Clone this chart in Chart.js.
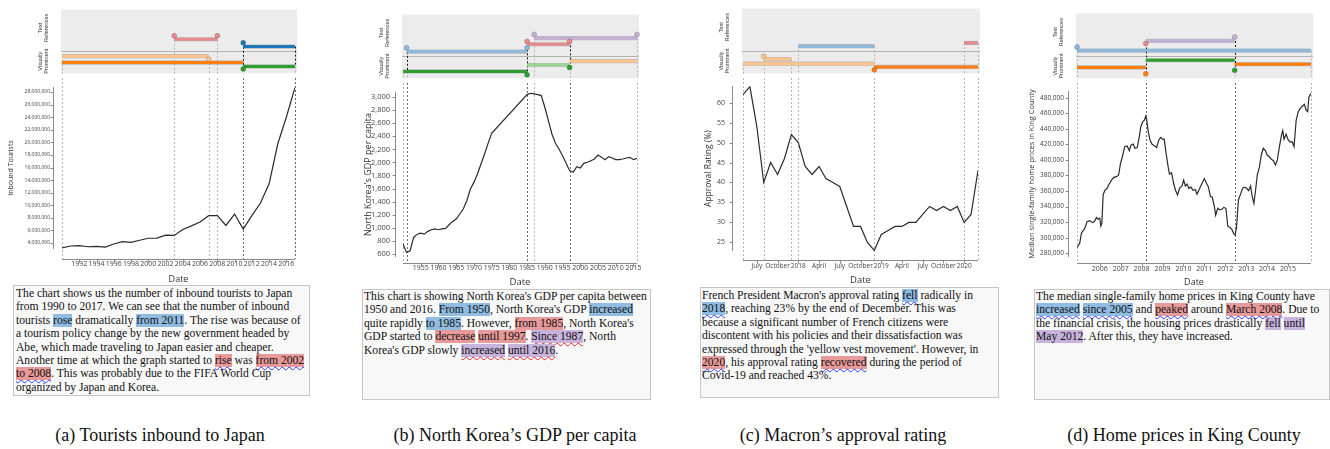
<!DOCTYPE html>
<html>
<head>
<meta charset="utf-8">
<title>Text references and visually prominent features</title>
<script src="https://cdn.jsdelivr.net/npm/chart.js@4.4.1/dist/chart.umd.min.js"></script>
<style>
  html, body { margin: 0; padding: 0; background: #fff; }
  #fig { position: relative; width: 1330px; height: 449px; overflow: hidden; }
  canvas { position: absolute; }
  .tbox { position: absolute; box-sizing: border-box; background: #f8f8f8; border: 1px solid #c6c6c6;
          font-family: 'Liberation Serif', 'Times New Roman', serif; font-size: 11.6px; line-height: 13.4px;
          color: #111; white-space: nowrap; overflow: hidden; }
  .hb { background: #8fbce0; }
  .hr { background: #e8999a; }
  .hp { background: #c8b3dd; }
  .wb { text-decoration: underline wavy #2a3bef; text-decoration-thickness: 1px; text-underline-offset: 2px; }
  .wr { text-decoration: underline wavy #e8262a; text-decoration-thickness: 1px; text-underline-offset: 2px; }
  .cap { position: absolute; font-family: 'Liberation Serif', 'Times New Roman', serif; font-size: 18px;
         white-space: nowrap; transform: translate(-50%, -50%); color: #111; }
</style>
</head>
<body>
<div id="fig">
  <div class="tbox" style="left:13px;top:285px;width:297px;height:111px;padding:1px 2px 0 2px;">
    The chart shows us the number of inbound tourists to Japan<br>
    from 1990 to 2017. We can see that the number of inbound<br>
    tourists <span class="hb">rose</span> dramatically <span class="hb">from 2011</span>. The rise was because of<br>
    a tourism policy change by the new government headed by<br>
    Abe, which made traveling to Japan easier and cheaper.<br>
    Another time at which the graph started to <span class="hr wb">rise</span> was <span class="hr wb">from 2002<br>
    to 2008</span>. This was probably due to the FIFA World Cup<br>
    organized by Japan and Korea.
  </div>
  <div class="tbox" style="left:362px;top:289px;width:289px;height:111px;padding:0 1px 0 1px;">
    This chart is showing North Korea's GDP per capita between<br>
    1950 and 2016. <span class="hb">From 1950</span>, North Korea's GDP <span class="hb">increased</span><br>
    quite rapidly <span class="hb">to 1985</span>. However, <span class="hr">from 1985</span>, North Korea's<br>
    GDP started to <span class="hr">decrease</span> <span class="hr">until 1997</span>. <span class="hp wr">Since 1987</span>, North<br>
    Korea's GDP slowly <span class="hp wr">increased</span> <span class="hp wr">until 2016</span>.
  </div>
  <div class="tbox" style="left:700px;top:287px;width:299px;height:111px;padding:1px 1px 0 1px;">
    French President Macron's approval rating <span class="hb wb">fell</span> radically in<br>
    <span class="hb wb">2018</span>, reaching 23% by the end of December. This was<br>
    because a significant number of French citizens were<br>
    discontent with his policies and their dissatisfaction was<br>
    expressed through the 'yellow vest movement'. However, in<br>
    <span class="hr wb">2020</span>, his approval rating <span class="hr wb">recovered</span> during the period of<br>
    Covid-19 and reached 43%.
  </div>
  <div class="tbox" style="left:1034px;top:289px;width:296px;height:111px;padding:0 1px 0 1px;">
    The median single-family home prices in King County have<br>
    <span class="hb wb">increased</span> <span class="hb wb">since 2005</span> and <span class="hr wb">peaked</span> around <span class="hr wb">March 2008</span>. Due to<br>
    the financial crisis, the housing prices drastically <span class="hp">fell</span> <span class="hp">until<br>
    May 2012</span>. After this, they have increased.
  </div>
  <div class="cap" style="left:160px;top:435px;">(a) Tourists inbound to Japan</div>
  <div class="cap" style="left:515px;top:435px;">(b) North Korea’s GDP per capita</div>
  <div class="cap" style="left:843px;top:435px;">(c) Macron’s approval rating</div>
  <div class="cap" style="left:1184px;top:435px;">(d) Home prices in King County</div>
</div>
<script>
// ---------- (a) inbound tourists to Japan ----------
const TOUR_YEARS = [1990, 1991, 1992, 1993, 1994, 1995, 1996, 1997, 1998, 1999, 2000, 2001, 2002, 2003,
                    2004, 2005, 2006, 2007, 2008, 2009, 2010, 2011, 2012, 2013, 2014, 2015, 2016, 2017];
const TOUR_VISITORS = [3240000, 3530000, 3580000, 3410000, 3470000, 3350000, 3840000, 4220000, 4110000,
                       4440000, 4760000, 4770000, 5240000, 5210000, 6140000, 6730000, 7330000, 8350000,
                       8350000, 6790000, 8610000, 6220000, 8360000, 10360000, 13410000, 19740000,
                       24040000, 28690000];
const TOUR_X_TICKS = [1992, 1994, 1996, 1998, 2000, 2002, 2004, 2006, 2008, 2010, 2012, 2014, 2016];
const TOUR_Y_TICKS = [4000000, 6000000, 8000000, 10000000, 12000000, 14000000, 16000000, 18000000,
                      20000000, 22000000, 24000000, 26000000, 28000000];
const TOUR_TEXT_REFS = [
  { from: 2003, to: 2008, lane: 5.35, key: 'ref2' },
  { from: 2011, to: 2017, lane: 4.2, key: 'ref1s' }
];
const TOUR_VISUAL = [
  { from: 1990, to: 2007, lane: 2.7, key: 'vis2' },
  { from: 1990, to: 2011, lane: 1.7, key: 'vis1' },
  { from: 2011, to: 2017, lane: 1.1, key: 'vis3' }
];
const TOUR_MARKERS = [
  { x: 2003, lane: 5.9, key: 'ref2' }, { x: 2008, lane: 5.9, key: 'ref2' },
  { x: 2011, lane: 4.8, key: 'ref1s' }, { x: 2007, lane: 2.25, key: 'vis2' },
  { x: 2011, lane: 0.7, key: 'vis3' }
];
const TOUR_GUIDES = [
  { x: 1990, top: 2.7 }, { x: 2003, top: 5.9 }, { x: 2007, top: 2.25 }, { x: 2008, top: 5.9 },
  { x: 2011, top: 4.8, low: 0.7, dark: true }, { x: 2017, top: 4.2, low: 1.1, dark: true }
];

// ---------- (b) North Korea's GDP per capita ----------
const GDP_YEARS = [1950, 1951, 1952, 1953, 1954, 1955, 1956, 1957, 1958, 1959, 1960, 1961, 1962, 1963,
                   1964, 1965, 1966, 1967, 1968, 1969, 1970, 1971, 1972, 1973, 1974, 1975,
                   1985, 1986, 1987, 1988, 1989, 1990, 1991, 1992, 1993, 1994, 1995, 1996, 1997, 1998,
                   1999, 2000, 2001, 2002, 2003, 2004, 2005, 2006, 2007, 2008, 2009, 2010, 2011, 2012,
                   2013, 2014, 2015, 2016];
const GDP_VALUES = [748, 620, 646, 850, 900, 917, 900, 943, 968, 980, 968, 980, 989, 1045,
                    1096, 1132, 1209, 1285, 1413, 1592, 1694, 1822, 1976, 2129, 2293, 2446,
                    3040, 3060, 3050, 3040, 3025, 2846, 2641, 2436, 2293, 2206, 2104, 1986, 1874, 1848,
                    1935, 1915, 1986, 2002, 2027, 2053, 2114, 2078, 2043, 2089, 2068, 2043, 2043, 2053,
                    2068, 2078, 2043, 2063];
const GDP_X_TICKS = [1955, 1960, 1965, 1970, 1975, 1980, 1985, 1990, 1995, 2000, 2005, 2010, 2015];
const GDP_Y_TICKS = [600, 800, 1000, 1200, 1400, 1600, 1800, 2000, 2200, 2400, 2600, 2800, 3000];
const GDP_TEXT_REFS = [
  { from: 1987, to: 2016, lane: 6.3, key: 'ref3' },
  { from: 1985, to: 1997, lane: 5.35, key: 'ref2' },
  { from: 1951, to: 1985, lane: 4.2, key: 'ref1' }
];
const GDP_VISUAL = [
  { from: 1997, to: 2016, lane: 2.7, key: 'vis2' },
  { from: 1985, to: 1997, lane: 2.1, key: 'vis4' },
  { from: 1950, to: 1985, lane: 1.1, key: 'vis3' }
];
const GDP_MARKERS = [
  { x: 1987, lane: 6.9, key: 'ref3' }, { x: 2016, lane: 6.9, key: 'ref3' },
  { x: 1985, lane: 5.8, key: 'ref2' }, { x: 1997, lane: 5.8, key: 'ref2' },
  { x: 1951, lane: 4.8, key: 'ref1' }, { x: 1985, lane: 4.8, key: 'ref1' },
  { x: 1985, lane: 0.56, key: 'vis3' }, { x: 1997, lane: 1.7, key: 'vis3' }
];
const GDP_GUIDES = [
  { x: 1950, top: 1.1 }, { x: 1951, top: 4.8, low: 1.1, dark: true },
  { x: 1985, top: 5.8, low: 0.56, dark: true }, { x: 1987, top: 6.9 },
  { x: 1997, top: 5.8, low: 1.7, dark: true }, { x: 2016, top: 6.9 }
];

// ---------- (c) Macron's approval rating ----------
const MACRON_MONTHS = ['2017-05', '2017-06', '2017-07', '2017-08', '2017-09', '2017-10', '2017-11', '2017-12',
                       '2018-01', '2018-02', '2018-03', '2018-04', '2018-05', '2018-06', '2018-07', '2018-08',
                       '2018-09', '2018-10', '2018-11', '2018-12', '2019-01', '2019-02', '2019-03', '2019-04',
                       '2019-05', '2019-06', '2019-07', '2019-08', '2019-09', '2019-10', '2019-11', '2019-12',
                       '2020-01', '2020-02', '2020-03'];
const MACRON_RATING = [62, 64, 54, 40, 45, 42, 46, 52,
                       50, 44, 42, 44, 41, 40, 39, 34, 29, 29, 25, 23,
                       27, 28, 29, 29, 30, 30, 32, 34, 33, 34, 33, 34,
                       30, 32, 43];
const MACRON_X_TICKS = ['2017-07', '2017-10', '2018-01', '2018-04', '2018-07', '2018-10',
                        '2019-01', '2019-04', '2019-07', '2019-10', '2020-01'];
const MACRON_Y_TICKS = [25, 30, 35, 40, 45, 50, 55, 60];
const MACRON_TEXT_REFS = [
  { from: '2018-01', to: '2018-12', lane: 4.2, key: 'ref1' },
  { from: '2020-01', to: '2020-03', lane: 4.7, key: 'ref2' }
];
const MACRON_VISUAL = [
  { from: '2017-08', to: '2017-12', lane: 2.2, key: 'vis2' },
  { from: '2017-05', to: '2018-12', lane: 1.5, key: 'vis2' },
  { from: '2018-12', to: '2020-03', lane: 1.0, key: 'vis1' }
];
const MACRON_MARKERS = [
  { x: '2017-08', lane: 2.65, key: 'vis2' }, { x: '2018-12', lane: 0.55, key: 'vis1' }
];
const MACRON_GUIDES = [
  { x: '2017-05', top: 1.5 }, { x: '2017-08', top: 2.65 }, { x: '2017-12', top: 2.2 },
  { x: '2018-01', top: 4.2 }, { x: '2018-12', top: 4.2 }, { x: '2020-01', top: 4.7 },
  { x: '2020-03', top: 4.7 }
];

// ---------- (d) median home prices in King County ----------
const HOME_DATES = [2004.91, 2005.04, 2005.12, 2005.20, 2005.28, 2005.39, 2005.52, 2005.65, 2005.74, 2005.84,
  2005.92, 2006.00, 2006.05, 2006.10, 2006.16, 2006.24, 2006.35, 2006.45, 2006.56, 2006.67, 2006.80, 2006.90,
  2006.99, 2007.09, 2007.19, 2007.31, 2007.41, 2007.49, 2007.60, 2007.68, 2007.79, 2007.89, 2007.96, 2008.05,
  2008.13, 2008.20, 2008.24, 2008.32, 2008.40, 2008.50, 2008.63, 2008.72, 2008.82, 2008.92, 2009.01, 2009.08,
  2009.17, 2009.27, 2009.33, 2009.43, 2009.53, 2009.62, 2009.72, 2009.81, 2009.93, 2010.01, 2010.09, 2010.17,
  2010.26, 2010.36, 2010.46, 2010.57, 2010.65, 2010.78, 2010.89, 2011.00, 2011.10, 2011.19, 2011.29, 2011.38,
  2011.48, 2011.54, 2011.64, 2011.74, 2011.83, 2011.93, 2012.03, 2012.12, 2012.22, 2012.31, 2012.41, 2012.47,
  2012.54, 2012.63, 2012.73, 2012.83, 2012.92, 2013.02, 2013.12, 2013.21, 2013.29, 2013.37, 2013.45, 2013.53,
  2013.63, 2013.72, 2013.82, 2013.92, 2014.01, 2014.11, 2014.21, 2014.30, 2014.40, 2014.49, 2014.59, 2014.69,
  2014.75, 2014.81, 2014.91, 2015.01, 2015.10, 2015.20, 2015.29, 2015.39, 2015.49, 2015.58, 2015.68, 2015.78,
  2015.87, 2015.94, 2016.00, 2016.10];
const HOME_PRICES = [287300, 292800, 305700, 309000, 312000, 320700, 322000, 319400, 320700, 326000,
  323700, 325000, 315000, 318500, 355000, 361000, 363500, 369000, 374000, 377600, 378500, 380600,
  395600, 405000, 417000, 418000, 412000, 419000, 420500, 415000, 415800, 430000, 442700, 449000,
  451000, 456400, 452000, 436000, 425600, 420000, 418000, 416000, 425600, 429000, 426500, 427000,
  408500, 391000, 382000, 383600, 370000, 361000, 355000, 363500, 366500, 374000, 366500, 369000,
  363500, 365000, 361000, 362000, 356000, 363500, 370000, 376000, 370000, 365700, 353000, 352000,
  340000, 329000, 337800, 335700, 336500, 339000, 337800, 315000, 313000, 311000, 305000, 303500,
  314000, 348500, 356000, 363500, 365000, 363500, 360500, 366500, 353000, 344000, 361000, 380600,
  390500, 406000, 415000, 412000, 406000, 404000, 400800, 399000, 393500, 400000, 417000, 432000,
  437600, 426500, 433000, 425600, 423000, 423500, 417000, 451000, 462000, 466000, 469000, 471400,
  464000, 462000, 481000, 485600];
const HOME_X_TICKS = [2006, 2007, 2008, 2009, 2010, 2011, 2012, 2013, 2014, 2015];
const HOME_Y_TICKS = [280000, 300000, 320000, 340000, 360000, 380000, 400000, 420000, 440000, 460000, 480000];
const HOME_TEXT_REFS = [
  { from: 2008.2, to: 2012.45, lane: 5.8, key: 'ref3' },
  { from: 2004.91, to: 2016.1, lane: 4.3, key: 'ref1' }
];
const HOME_VISUAL = [
  { from: 2008.2, to: 2012.45, lane: 2.8, key: 'vis3' },
  { from: 2012.45, to: 2016.1, lane: 2.2, key: 'vis1' },
  { from: 2004.91, to: 2008.2, lane: 1.7, key: 'vis1' }
];
const HOME_MARKERS = [
  { x: 2008.2, lane: 5.4, key: 'ref2' }, { x: 2012.45, lane: 6.4, key: 'ref3' },
  { x: 2004.91, lane: 4.85, key: 'ref1' }, { x: 2008.2, lane: 0.7, key: 'vis1' },
  { x: 2012.45, lane: 1.25, key: 'vis3' }
];
const HOME_GUIDES = [
  { x: 2004.91, top: 4.85 }, { x: 2008.2, top: 5.4, low: 0.7, dark: true },
  { x: 2012.45, top: 6.4, low: 1.25, dark: true }, { x: 2016.1, top: 4.3 }
];

// ---------- styling ----------
const SANS = "'Open Sans', 'Liberation Sans', sans-serif";
const LABEL_SANS = "'Liberation Sans', Arial, sans-serif";
const KEY_COLORS = {
  ref1: '#8fb9dc', ref1s: '#1f77b4', ref2: '#e68a8c', ref3: '#c5b0d5',
  vis1: '#ff7f0e', vis2: '#ffc48c', vis3: '#2ca02c', vis4: '#9dd694'
};
const STRIP_DIVIDER = 3.5;
const LANE_MAX = 10;

// page geometry of each panel: plot box, strip band, canvas extents and axis offsets
const LAYOUTS = {
  tour:   { plot: { l: 62, r: 295, t: 87, b: 249 },   strip: { t: 7, b: 78 },  cl: 7,    cr: 309,  cb: 285,
            gapX: 10, gapY: 9,  yTick: { len: 12, pad: 0, size: 5 },   xTick: { len: 10, pad: 1, size: 7 },
            yTitleSize: 7,   xTitleSize: 9 },
  gdp:    { plot: { l: 403, r: 637, t: 92, b: 257 },  strip: { t: 12, b: 83 }, cl: 363,  cr: 651,  cb: 288,
            gapX: 6,  gapY: 8,  yTick: { len: 11, pad: 2, size: 7.5 }, xTick: { len: 6, pad: 1, size: 7 },
            yTitleSize: 9,   xTitleSize: 9.5 },
  macron: { plot: { l: 743, r: 978, t: 86, b: 251 },  strip: { t: 6, b: 78 },  cl: 703,  cr: 992,  cb: 286,
            gapX: 9,  gapY: 11, yTick: { len: 14, pad: 4, size: 7 },   xTick: { len: 10, pad: 1, size: 6.5 },
            yTitleSize: 8.5, xTitleSize: 9.5 },
  home:   { plot: { l: 1077, r: 1311, t: 91, b: 257 }, strip: { t: 11, b: 83 }, cl: 1027, cr: 1325, cb: 288,
            gapX: 6,  gapY: 9,  yTick: { len: 12, pad: 1, size: 6.5 }, xTick: { len: 7, pad: 1, size: 7 },
            yTitleSize: 7.5, xTitleSize: 9 }
};

function monthNum(s) { const [y, m] = s.split('-').map(Number); return y * 12 + (m - 1); }
const MONTH_NAMES = { 3: 'April', 6: 'July', 9: 'October' };
function monthLabel(v) { const m = ((v % 12) + 12) % 12; return m === 0 ? String(Math.floor(v / 12)) : MONTH_NAMES[m]; }
const fmtNum = v => Number(v).toLocaleString('en-US');
const ident = v => v;

const PANELS = [
  { layout: LAYOUTS.tour, xOf: ident, xs: TOUR_YEARS, ys: TOUR_VISITORS, xMin: 1990, xMax: 2017,
    yMin: 3050000, yMax: 28800000, xTicks: TOUR_X_TICKS, yTicks: TOUR_Y_TICKS, xFmt: v => String(v),
    yTitle: 'Inbound Tourists', refs: TOUR_TEXT_REFS, visual: TOUR_VISUAL, markers: TOUR_MARKERS, guides: TOUR_GUIDES },
  { layout: LAYOUTS.gdp, xOf: ident, xs: GDP_YEARS, ys: GDP_VALUES, xMin: 1950, xMax: 2016,
    yMin: 550, yMax: 3080, xTicks: GDP_X_TICKS, yTicks: GDP_Y_TICKS, xFmt: v => String(v),
    yTitle: "North Korea's GDP per capita", refs: GDP_TEXT_REFS, visual: GDP_VISUAL, markers: GDP_MARKERS, guides: GDP_GUIDES },
  { layout: LAYOUTS.macron, xOf: monthNum, xs: MACRON_MONTHS, ys: MACRON_RATING, xMin: '2017-05', xMax: '2020-03',
    yMin: 22.85, yMax: 64.1, xTicks: MACRON_X_TICKS, yTicks: MACRON_Y_TICKS, xFmt: monthLabel,
    yTitle: 'Approval Rating (%)', refs: MACRON_TEXT_REFS, visual: MACRON_VISUAL, markers: MACRON_MARKERS, guides: MACRON_GUIDES },
  { layout: LAYOUTS.home, xOf: ident, xs: HOME_DATES, ys: HOME_PRICES, xMin: 2004.91, xMax: 2016.1,
    yMin: 275200, yMax: 488600, xTicks: HOME_X_TICKS, yTicks: HOME_Y_TICKS, xFmt: v => String(v),
    yTitle: 'Median single-family home prices in King County', refs: HOME_TEXT_REFS, visual: HOME_VISUAL,
    markers: HOME_MARKERS, guides: HOME_GUIDES }
];

function makeCanvas(left, top, width, height) {
  const c = document.createElement('canvas');
  c.width = width; c.height = height;
  c.style.left = left + 'px'; c.style.top = top + 'px';
  c.style.width = width + 'px'; c.style.height = height + 'px';
  document.getElementById('fig').appendChild(c);
  return c;
}

// axis lines drawn a little away from the plot box, with short outward ticks
function offsetAxesPlugin(L) {
  return {
    id: 'offsetAxes',
    afterDraw(chart) {
      const { ctx, chartArea: a, scales: { x, y } } = chart;
      const ax = Math.round(a.left - L.gapY) + 0.5;
      const ay = Math.round(a.bottom + L.gapX) + 0.5;
      ctx.save();
      ctx.strokeStyle = '#8a8a8a';
      ctx.lineWidth = 1;
      ctx.beginPath();
      ctx.moveTo(ax, a.top); ctx.lineTo(ax, a.bottom);
      y.ticks.forEach(t => { const p = Math.round(y.getPixelForValue(t.value)) + 0.5; ctx.moveTo(ax - 3, p); ctx.lineTo(ax, p); });
      ctx.moveTo(a.left, ay); ctx.lineTo(a.right, ay);
      x.ticks.forEach(t => { const p = Math.round(x.getPixelForValue(t.value)) + 0.5; ctx.moveTo(p, ay); ctx.lineTo(p, ay + 3); });
      ctx.stroke();
      ctx.restore();
    }
  };
}

// dashed reference lines continuing from the strip down to the date axis
function chartGuidePlugin(P) {
  return {
    id: 'chartGuides',
    beforeDatasetsDraw(chart) {
      const { ctx, chartArea: a, scales: { x } } = chart;
      const yEnd = a.bottom + P.layout.gapX;
      ctx.save();
      ctx.setLineDash([2, 2]);
      ctx.lineWidth = 1;
      P.guides.forEach(g => {
        const px = Math.round(x.getPixelForValue(P.xOf(g.x))) + 0.5;
        ctx.strokeStyle = g.dark ? '#6a6a6a' : '#b4b4b4';
        ctx.beginPath(); ctx.moveTo(px, 0); ctx.lineTo(px, yEnd); ctx.stroke();
      });
      ctx.restore();
    }
  };
}

// grey band, divider, guide lines and row labels of the strip
function stripPlugin(P) {
  return {
    id: 'stripBand',
    beforeDatasetsDraw(chart) {
      const { ctx, chartArea: a, scales: { x, y } } = chart;
      ctx.save();
      ctx.fillStyle = '#ececec';
      ctx.fillRect(a.left - 1, a.top, a.right - a.left + 3, a.bottom - a.top);
      const dy = Math.round(y.getPixelForValue(STRIP_DIVIDER)) + 0.5;
      ctx.strokeStyle = '#b3b3b3';
      ctx.lineWidth = 1;
      ctx.beginPath(); ctx.moveTo(a.left - 1, dy); ctx.lineTo(a.right + 2, dy); ctx.stroke();
      ctx.setLineDash([2, 2]);
      P.guides.forEach(g => {
        const px = Math.round(x.getPixelForValue(P.xOf(g.x))) + 0.5;
        const top = y.getPixelForValue(g.top);
        let start = top;
        if (g.dark) {
          const low = y.getPixelForValue(g.low);
          ctx.strokeStyle = '#111';
          ctx.beginPath(); ctx.moveTo(px, top); ctx.lineTo(px, low); ctx.stroke();
          start = low;
        }
        ctx.strokeStyle = '#b4b4b4';
        ctx.beginPath(); ctx.moveTo(px, start); ctx.lineTo(px, a.bottom); ctx.stroke();
      });
      ctx.restore();
    },
    afterDraw(chart) {
      const { ctx, chartArea: a, scales: { y } } = chart;
      const dy = y.getPixelForValue(STRIP_DIVIDER);
      const cx = a.left - 19;
      ctx.save();
      ctx.fillStyle = '#333';
      ctx.font = `5.5px ${LABEL_SANS}`;
      ctx.textAlign = 'center';
      ctx.textBaseline = 'middle';
      const rot = (lines, cy) => {
        ctx.save(); ctx.translate(cx, cy); ctx.rotate(-Math.PI / 2);
        lines.forEach((t, i) => ctx.fillText(t, 0, (i - (lines.length - 1) / 2) * 6));
        ctx.restore();
      };
      rot(['Text', 'References'], (a.top + dy) / 2 - 2.5);
      rot(['Visually', 'Prominent'], (dy + a.bottom) / 2 - 1);
      ctx.restore();
    }
  };
}

function buildStrip(P) {
  const L = P.layout;
  const top = L.strip.t - 2;
  const cv = makeCanvas(L.cl, top, L.cr - L.cl, L.strip.b - top);
  const segs = P.refs.concat(P.visual);
  const datasets = [];
  datasets.push({
    data: P.markers.map(m => ({ x: P.xOf(m.x), y: m.lane })),
    showLine: false, pointRadius: 2.5, pointBorderWidth: 0.6,
    pointBackgroundColor: P.markers.map(m => KEY_COLORS[m.key]),
    pointBorderColor: 'rgba(0,0,0,0.28)', order: 0, clip: false
  });
  segs.forEach(s => {
    const pts = [{ x: P.xOf(s.from), y: s.lane }, { x: P.xOf(s.to), y: s.lane }];
    datasets.push({ data: pts, borderColor: KEY_COLORS[s.key], borderWidth: 3, pointRadius: 0,
                    borderCapStyle: 'butt', order: 1, clip: false });
    datasets.push({ data: pts, borderColor: 'rgba(0,0,0,0.22)', borderWidth: 4.2, pointRadius: 0,
                    borderCapStyle: 'butt', order: 2, clip: false });
  });
  return new Chart(cv, {
    type: 'line',
    data: { datasets },
    options: {
      responsive: false, animation: false, devicePixelRatio: 1,
      layout: { padding: { left: L.plot.l - L.cl, right: L.cr - L.plot.r, top: 2, bottom: 0 } },
      plugins: { legend: { display: false }, tooltip: { enabled: false } },
      scales: {
        x: { type: 'linear', min: P.xOf(P.xMin), max: P.xOf(P.xMax), display: false },
        y: { type: 'linear', min: 0, max: LANE_MAX, display: false }
      }
    },
    plugins: [stripPlugin(P)]
  });
}

function buildLine(P) {
  const L = P.layout;
  const cv = makeCanvas(L.cl, L.strip.b, L.cr - L.cl, L.cb - L.strip.b);
  const hiddenGrid = (len) => ({ display: true, drawOnChartArea: false, drawTicks: true, tickLength: len, color: 'rgba(0,0,0,0)' });
  return new Chart(cv, {
    type: 'line',
    data: {
      datasets: [{
        data: P.xs.map((v, i) => ({ x: P.xOf(v), y: P.ys[i] })),
        borderColor: '#2b2b2b', borderWidth: 1.2, pointRadius: 0, tension: 0, fill: false
      }]
    },
    options: {
      responsive: false, animation: false, devicePixelRatio: 1,
      layout: { padding: { left: 0, right: L.cr - L.plot.r, top: L.plot.t - L.strip.b, bottom: 0 } },
      plugins: { legend: { display: false }, tooltip: { enabled: false } },
      scales: {
        x: {
          type: 'linear', min: P.xOf(P.xMin), max: P.xOf(P.xMax),
          afterFit: s => { s.height = L.cb - L.plot.b; },
          afterBuildTicks: s => { s.ticks = P.xTicks.map(v => ({ value: P.xOf(v) })); },
          ticks: { callback: v => P.xFmt(v), font: { family: SANS, size: L.xTick.size }, color: '#444',
                   padding: L.xTick.pad, maxRotation: 0, autoSkip: false },
          grid: hiddenGrid(L.xTick.len), border: { display: false },
          title: { display: true, text: 'Date', font: { family: SANS, size: L.xTitleSize }, color: '#333', padding: 0 }
        },
        y: {
          type: 'linear', min: P.yMin, max: P.yMax,
          afterFit: s => { s.width = L.plot.l - L.cl; },
          afterBuildTicks: s => { s.ticks = P.yTicks.map(v => ({ value: v })); },
          ticks: { callback: v => fmtNum(v), font: { family: SANS, size: L.yTick.size }, color: '#444',
                   padding: L.yTick.pad, autoSkip: false },
          grid: hiddenGrid(L.yTick.len), border: { display: false },
          title: { display: true, text: P.yTitle, font: { family: SANS, size: L.yTitleSize }, color: '#333', padding: 0 }
        }
      }
    },
    plugins: [offsetAxesPlugin(L), chartGuidePlugin(P)]
  });
}

PANELS.forEach(P => { buildStrip(P); buildLine(P); });
</script>
</body>
</html>
